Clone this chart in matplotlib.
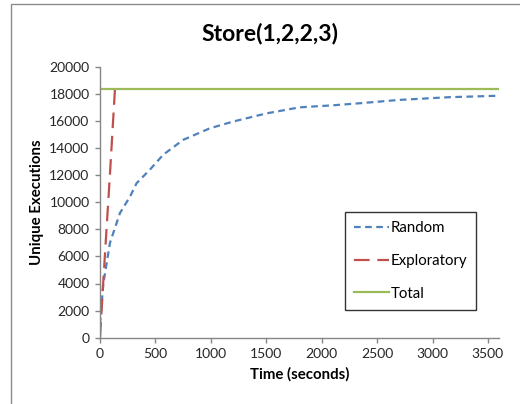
import matplotlib
matplotlib.use("Agg")
import matplotlib.pyplot as plt
from matplotlib.patches import Rectangle

plt.rcParams['font.family'] = ['Lato', 'DejaVu Sans']

# Random search: unique executions over time
random_t = [0, 30, 90, 180, 270, 330, 450, 570, 750, 990, 1200, 1500, 1800, 2100, 2340, 2700, 3150, 3570]
random_y = [1000, 4000, 7000, 9200, 10400, 11400, 12400, 13500, 14600, 15450, 15950, 16550, 17000, 17150, 17300, 17550, 17750, 17850]

# Exploratory search
explore_t = [0, 30, 90, 135]
explore_y = [0, 4200, 12100, 18350]

# Total number of unique executions
total = 18350
total_t = [0, 3600]

blue = '#4F81BD'
red = '#C0504D'
green = '#9BBB59'
axis_gray = '#868686'

fig = plt.figure(figsize=(5.2, 4.04), dpi=100)
fig.patches.append(Rectangle((11 / 520, -0.1), 1.2, 1 - 4 / 404 + 0.1,
                             transform=fig.transFigure, fill=False,
                             edgecolor='#8c8c8c', linewidth=1.0))
ax = fig.add_axes([100 / 520, 1 - 337.7 / 404, 399 / 520, 271 / 404])

ax.plot(random_t, random_y, color=blue, linewidth=1.6, dashes=(3, 2), label='Random')
ax.plot(explore_t, explore_y, color=red, linewidth=1.6, dashes=(7, 3.5), label='Exploratory')
ax.plot(total_t, [total, total], color=green, linewidth=1.6, label='Total')

ax.set_xlim(0, 3600)
ax.set_ylim(0, 20000)
ax.set_xticks(range(0, 3501, 500))
ax.set_yticks(range(0, 20001, 2000))

for s in ['top', 'right']:
    ax.spines[s].set_visible(False)
for s in ['left', 'bottom']:
    ax.spines[s].set_color(axis_gray)
    ax.spines[s].set_linewidth(1.0)
ax.tick_params(axis='both', colors=axis_gray, labelcolor='#262626',
               labelsize=10, length=3.5, width=1.0, direction='out')
ax.tick_params(axis='y', pad=4)
ax.tick_params(axis='x', pad=4)

fig.text(270 / 520, 1 - 34 / 404, 'Store(1,2,2,3)', fontsize=16.5,
         fontweight='bold', ha='center', va='center')
ax.set_xlabel('Time (seconds)', fontsize=10.8, fontweight='bold', labelpad=5)
ax.set_ylabel('Unique Executions', fontsize=10.8, fontweight='bold', labelpad=4)

leg = ax.legend(loc='upper left', bbox_to_anchor=(245 / 399, (337.7 - 212) / 271),
                fontsize=10.8, frameon=True, fancybox=False, edgecolor='black',
                handlelength=2.35, handletextpad=0.1, labelspacing=1.25,
                borderpad=0.6, borderaxespad=0)
leg.get_frame().set_linewidth(1.0)

fig.savefig('out.png', dpi=100)
